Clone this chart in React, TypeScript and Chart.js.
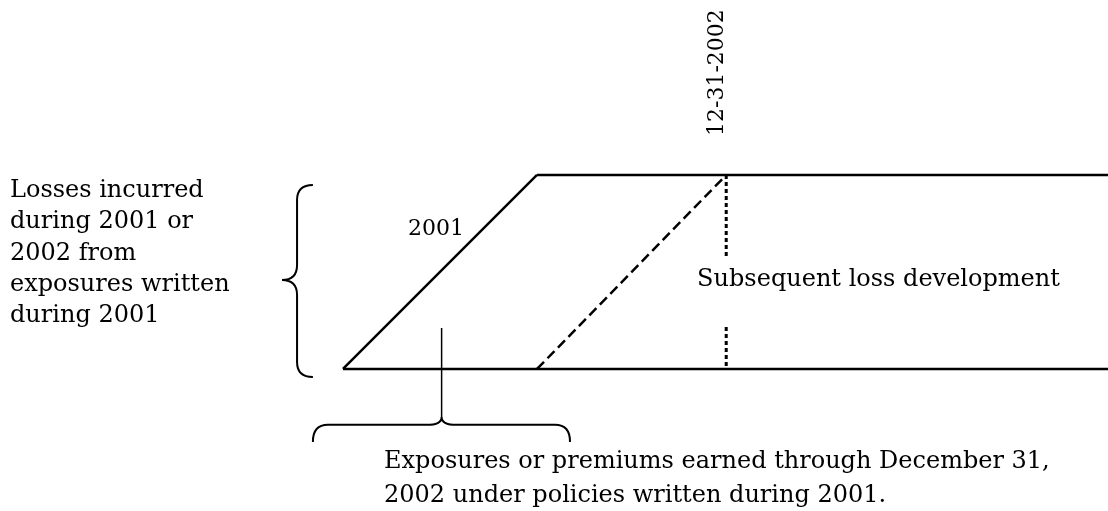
import { useEffect, useRef } from "react";
import { Chart, registerables } from "chart.js";

Chart.register(...registerables);

// Horizontal axis: months since 1 Jan 2001. Vertical axis: share of the loss band (0 = bottom edge, 1 = top edge).
const X_RANGE = [-21.21, 47.31];
const Y_RANGE = [-0.732, 1.902];

// Key dates (months since 1 Jan 2001)
const keyMonths = [0, 12, 23.7]; // start of 2001, end of 2001, 12-31-2002
const midYearMonth = 6.1;
const bandLevels = [0, 1];
const dottedBreak = [0.572, 0.216]; // dotted line interrupted between these levels (label gap)
const stemLevels = [0.211, -0.247];

// Braces (annotation shapes), in the same data units
const leftBrace = { tipX: -3.77, spineX: -2.84, endX: -1.86, top: 0.948, mid: 0.459, bottom: -0.041 };
const bottomBrace = { left: -1.86, right: 14.04, mid: midYearMonth, end: -0.376, spine: -0.288, tip: -0.247 };

// Texts
const leftNote = ["Losses incurred", "during 2001 or", "2002 from", "exposures written", "during 2001"];
const bottomNote = [
  "Exposures or premiums earned through December 31,",
  "2002 under policies written during 2001.",
];
const yearLabel = "2001";
const evalLabel = "12-31-2002";
const devLabel = "Subsequent loss development";

const FONT = "24px 'DejaVu Serif'";
const NUM_FONT = "22px 'DejaVu Serif'";

const pt = (x: number, y: number) => ({ x, y });

const annotate = {
  id: "annotate",
  afterDatasetsDraw(chart: any) {
    const { ctx } = chart;
    const sx = chart.scales.x;
    const sy = chart.scales.y;
    const X = (m: number) => sx.getPixelForValue(m);
    const Y = (v: number) => sy.getPixelForValue(v);
    ctx.save();
    ctx.strokeStyle = "#000";
    ctx.lineWidth = 2;
    ctx.lineCap = "butt";

    // Left vertical brace
    {
      const b = leftBrace;
      const xt = X(b.tipX), xs = X(b.spineX), xe = X(b.endX);
      const yt = Y(b.top), ym = Y(b.mid), yb = Y(b.bottom);
      const r = 15;
      ctx.beginPath();
      ctx.moveTo(xe, yt);
      ctx.quadraticCurveTo(xs, yt, xs, yt + r);
      ctx.lineTo(xs, ym - r);
      ctx.quadraticCurveTo(xs, ym, xt, ym);
      ctx.quadraticCurveTo(xs, ym, xs, ym + r);
      ctx.lineTo(xs, yb - r);
      ctx.quadraticCurveTo(xs, yb, xe, yb);
      ctx.stroke();
    }

    // Bottom horizontal brace (tip upwards)
    {
      const b = bottomBrace;
      const xl = X(b.left), xr = X(b.right), xm = X(b.mid);
      const ye = Y(b.end), ys = Y(b.spine), yt = Y(b.tip);
      const r = 15;
      ctx.beginPath();
      ctx.moveTo(xl, ye);
      ctx.quadraticCurveTo(xl, ys, xl + r, ys);
      ctx.lineTo(xm - r, ys);
      ctx.quadraticCurveTo(xm, ys, xm, yt);
      ctx.quadraticCurveTo(xm, ys, xm + r, ys);
      ctx.lineTo(xr - r, ys);
      ctx.quadraticCurveTo(xr, ys, xr, ye);
      ctx.stroke();
    }

    // Texts
    ctx.fillStyle = "#000";
    ctx.textBaseline = "alphabetic";
    ctx.textAlign = "left";
    ctx.font = FONT;

    const leftX = X(X_RANGE[0]) + 10;
    const leftBase = Y(bandLevels[1]) + 22;
    leftNote.forEach((line, i) => ctx.fillText(line, leftX, leftBase + i * 31.3));

    ctx.fillText(devLabel, X(21.9), Y(0.428));

    const bx = X(2.54);
    const bBase = Y(bottomBrace.end) + 26;
    bottomNote.forEach((line, i) => ctx.fillText(line, bx, bBase + i * 34));

    ctx.font = NUM_FONT;
    ctx.fillText(yearLabel, X(4.02), Y(0.69));

    ctx.save();
    ctx.translate(X(keyMonths[2]) - 3, Y(bandLevels[1]) - 39);
    ctx.rotate(-Math.PI / 2);
    ctx.fillText(evalLabel, 0, 0);
    ctx.restore();

    ctx.restore();
  },
};

export default function App() {
  const ref = useRef<HTMLCanvasElement | null>(null);

  useEffect(() => {
    if (!ref.current) return;
    const [m0, m1, m2] = keyMonths;
    const [lo, hi] = bandLevels;
    const base = {
      showLine: true,
      pointRadius: 0,
      borderColor: "#000",
      backgroundColor: "#000",
      borderWidth: 2.5,
      fill: false,
      tension: 0,
    };
    const chart = new Chart(ref.current, {
      type: "scatter",
      data: {
        datasets: [
          { ...base, label: "bottom", data: [pt(m0, lo), pt(X_RANGE[1], lo)] },
          { ...base, label: "top", data: [pt(m1, hi), pt(X_RANGE[1], hi)] },
          { ...base, label: "2001 written", data: [pt(m0, lo), pt(m1, hi)] },
          { ...base, label: "2001 earned", borderDash: [10, 5], data: [pt(m1, lo), pt(m2, hi)] },
          { ...base, label: "eval upper", borderWidth: 3, borderDash: [4, 3], data: [pt(m2, hi), pt(m2, dottedBreak[0])] },
          { ...base, label: "eval lower", borderWidth: 3, borderDash: [4, 3], data: [pt(m2, dottedBreak[1]), pt(m2, lo)] },
          { ...base, label: "stem", borderWidth: 1.5, data: [pt(midYearMonth, stemLevels[0]), pt(midYearMonth, stemLevels[1])] },
        ],
      },
      options: {
        animation: false,
        responsive: false,
        devicePixelRatio: 1,
        events: [],
        layout: { padding: 0 },
        plugins: { legend: { display: false }, tooltip: { enabled: false } },
        scales: {
          x: { type: "linear", min: X_RANGE[0], max: X_RANGE[1], display: false },
          y: { type: "linear", min: Y_RANGE[0], max: Y_RANGE[1], display: false },
        },
      },
      plugins: [annotate],
    });
    return () => chart.destroy();
  }, []);

  return (
    <div style={{ position: "absolute", left: 0, top: 0, width: 1108, height: 511, background: "#fff" }}>
      <canvas ref={ref} width={1108} height={511} style={{ width: 1108, height: 511, display: "block" }} />
    </div>
  );
}
